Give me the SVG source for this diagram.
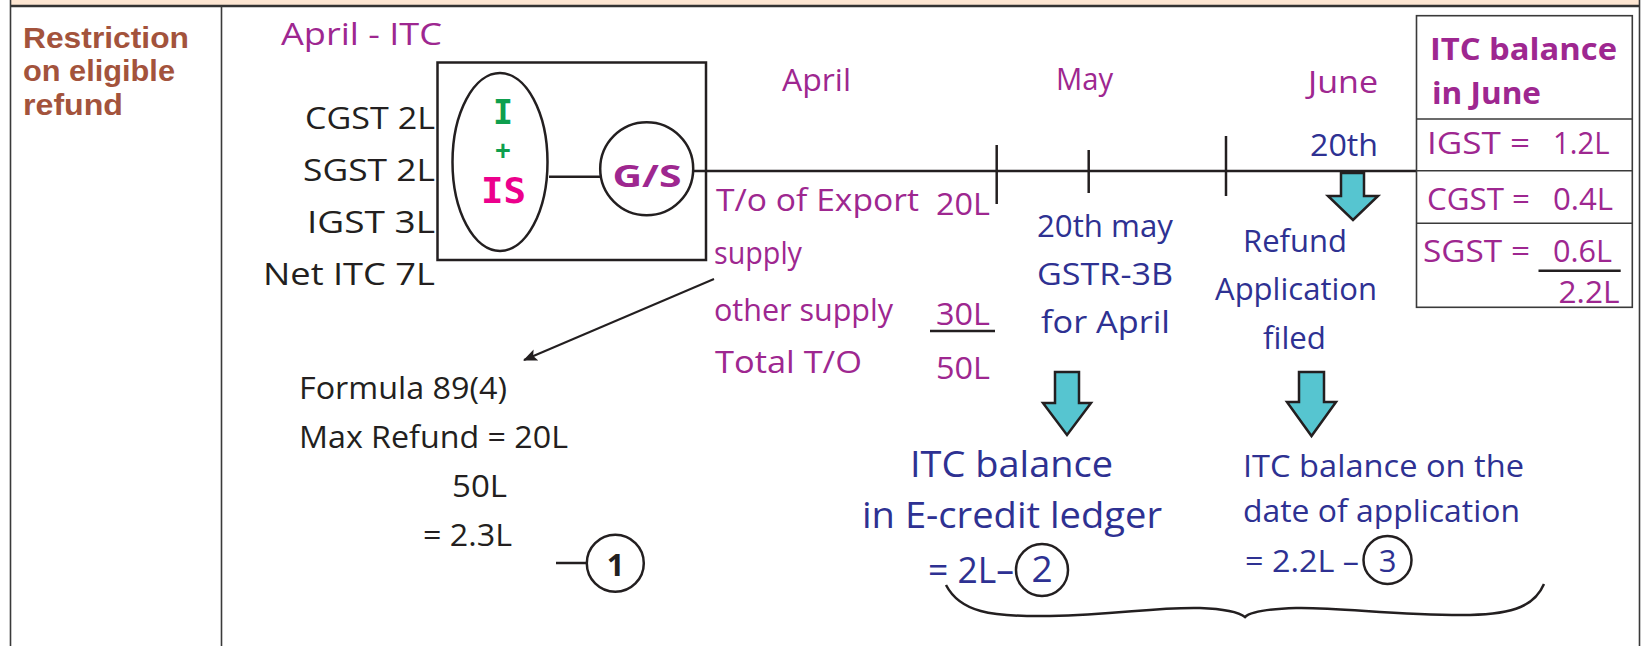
<svg xmlns="http://www.w3.org/2000/svg" width="1651" height="646" viewBox="0 0 1651 646">
<defs>
<style>
.t{font-family:"Open Sans","DejaVu Sans",sans-serif;font-size:31px}
.ls{font-family:"Liberation Sans",Arial,sans-serif}
.mono{font-family:"DejaVu Sans Mono","Liberation Mono",monospace}
.big{font-size:37px}
.b{font-weight:bold}
.pur{fill:#9E2790}
.blu{fill:#2E3192}
.blk{fill:#231F20}
.brn{fill:#A3533C}
.grn{fill:#0E9F4E}
.mag{fill:#EC008C}
.ln{stroke:#231F20;stroke-width:2.5;fill:none}
.frame{stroke:#3A3A3A;stroke-width:1.6;fill:none}
.cy{fill:#56C5D0;stroke:#231F20;stroke-width:2.5;stroke-linejoin:miter}
</style>
<marker id="ah" markerWidth="14" markerHeight="12" refX="13" refY="6" orient="auto" markerUnits="userSpaceOnUse">
<path d="M0,0 L14,6 L0,12 L3,6 Z" fill="#231F20"/>
</marker>
</defs>
<rect x="0" y="0" width="1651" height="646" fill="#FFFFFF"/>
<g id="page-frame">
<rect x="10" y="0" width="1630" height="5.5" fill="#FDE6D2"/>
<line x1="10" y1="6" x2="1640" y2="6" stroke="#333" stroke-width="2.5"/>
<line x1="10.5" y1="0" x2="10.5" y2="646" class="frame"/>
<line x1="221.5" y1="6" x2="221.5" y2="646" class="frame"/>
<line x1="1639.5" y1="0" x2="1639.5" y2="646" class="frame"/>
</g>
<g id="row-title">
<text class="ls b brn" font-size="29" x="23" y="48" textLength="166" lengthAdjust="spacingAndGlyphs">Restriction</text>
<text class="ls b brn" font-size="29" x="23" y="81" textLength="152" lengthAdjust="spacingAndGlyphs">on eligible</text>
<text class="ls b brn" font-size="29" x="23" y="115" textLength="100" lengthAdjust="spacingAndGlyphs">refund</text>
</g>
<g id="april-itc">
<text class="t pur" x="281" y="45" textLength="161" lengthAdjust="spacingAndGlyphs">April - ITC</text>
<text class="t blk" x="305" y="129" textLength="130" lengthAdjust="spacingAndGlyphs">CGST 2L</text>
<text class="t blk" x="303" y="181" textLength="132" lengthAdjust="spacingAndGlyphs">SGST 2L</text>
<text class="t blk" x="307" y="233" textLength="128" lengthAdjust="spacingAndGlyphs">IGST 3L</text>
<text class="t blk" x="263" y="285" textLength="172" lengthAdjust="spacingAndGlyphs">Net ITC 7L</text>
</g>
<g id="itc-box">
<rect x="437.5" y="62.5" width="268.5" height="197.5" class="ln"/>
</g>
<g id="node-i-is">
<ellipse cx="500" cy="162" rx="47.5" ry="89" class="ln"/>
<text class="mono b grn" x="503" y="124" text-anchor="middle" font-size="34" textLength="20" lengthAdjust="spacingAndGlyphs">I</text>
<text class="ls b grn" x="503" y="160" text-anchor="middle" font-size="27">+</text>
<text class="mono b mag" x="503.5" y="203" text-anchor="middle" font-size="36" textLength="45" lengthAdjust="spacingAndGlyphs">IS</text>
</g>
<g id="node-gs">
<circle cx="646.7" cy="168.7" r="46.5" class="ln"/>
<text class="t b pur" x="647" y="187" text-anchor="middle" font-size="35" textLength="69" lengthAdjust="spacingAndGlyphs">G/S</text>
</g>
<g id="connectors">
<line x1="549" y1="176.7" x2="600" y2="176.7" class="ln"/>
<line x1="693" y1="171" x2="1416" y2="171" class="ln"/>
<line x1="714" y1="279" x2="524" y2="360" stroke="#231F20" stroke-width="2" marker-end="url(#ah)"/>
</g>
<g id="timeline-ticks">
<line x1="996.7" y1="145" x2="996.7" y2="204" class="ln"/>
<line x1="1088.7" y1="150" x2="1088.7" y2="193" class="ln"/>
<line x1="1226" y1="136" x2="1226" y2="196" class="ln"/>
</g>
<g id="months">
<text class="t pur" x="782" y="91" textLength="69" lengthAdjust="spacingAndGlyphs">April</text>
<text class="t pur" x="1056" y="90" textLength="57" lengthAdjust="spacingAndGlyphs">May</text>
<text class="t pur" x="1308" y="93" textLength="70" lengthAdjust="spacingAndGlyphs">June</text>
</g>
<g id="april-turnover">
<text class="t pur" x="716" y="211" textLength="203" lengthAdjust="spacingAndGlyphs">T/o of Export</text>
<text class="t pur" x="936" y="215" textLength="54" lengthAdjust="spacingAndGlyphs">20L</text>
<text class="t pur" x="714" y="264" textLength="88" lengthAdjust="spacingAndGlyphs">supply</text>
<text class="t pur" x="714" y="321" textLength="179" lengthAdjust="spacingAndGlyphs">other supply</text>
<text class="t pur" x="936" y="325" textLength="54" lengthAdjust="spacingAndGlyphs">30L</text>
<line x1="930" y1="331" x2="995" y2="331" class="ln"/>
<text class="t pur" x="715" y="373" textLength="147" lengthAdjust="spacingAndGlyphs">Total T/O</text>
<text class="t pur" x="936" y="379" textLength="54" lengthAdjust="spacingAndGlyphs">50L</text>
</g>
<g id="formula">
<text class="t blk" x="299" y="399" textLength="208" lengthAdjust="spacingAndGlyphs">Formula 89(4)</text>
<text class="t blk" x="299" y="448" textLength="269" lengthAdjust="spacingAndGlyphs">Max Refund = 20L</text>
<text class="t blk" x="452" y="497" textLength="55" lengthAdjust="spacingAndGlyphs">50L</text>
<text class="t blk" x="423" y="546" textLength="89" lengthAdjust="spacingAndGlyphs">= 2.3L</text>
<line x1="556" y1="563" x2="587" y2="563" class="ln"/>
<circle cx="615.3" cy="563.3" r="28.5" class="ln"/>
<text class="t b blk" x="615.5" y="576" text-anchor="middle" font-size="34">1</text>
</g>
<g id="may-gstr3b">
<text class="t blu" x="1037" y="237" textLength="136" lengthAdjust="spacingAndGlyphs">20th may</text>
<text class="t blu" x="1037" y="285" textLength="136" lengthAdjust="spacingAndGlyphs">GSTR-3B</text>
<text class="t blu" x="1041" y="333" textLength="129" lengthAdjust="spacingAndGlyphs">for April</text>
<polygon class="cy" points="1055,372 1079,372 1079,403 1091,403 1067,435 1043,403 1055,403"/>
<text class="t big blu" x="910" y="477" textLength="203" lengthAdjust="spacingAndGlyphs">ITC balance</text>
<text class="t big blu" x="862" y="528" textLength="300" lengthAdjust="spacingAndGlyphs">in E-credit ledger</text>
<text class="t big blu" x="928" y="582.5" textLength="86" lengthAdjust="spacingAndGlyphs">= 2L–</text>
<circle cx="1042" cy="570" r="26" class="ln"/>
<text class="t big blu" x="1042" y="582" text-anchor="middle">2</text>
</g>
<g id="june-refund">
<text class="t blu" x="1310" y="156" textLength="68" lengthAdjust="spacingAndGlyphs">20th</text>
<polygon class="cy" points="1341,173 1364,173 1364,196 1378,196 1353,220 1328,196 1341,196"/>
<text class="t blu" x="1243" y="252" textLength="104" lengthAdjust="spacingAndGlyphs">Refund</text>
<text class="t blu" x="1215" y="300" textLength="162" lengthAdjust="spacingAndGlyphs">Application</text>
<text class="t blu" x="1263" y="349" textLength="63" lengthAdjust="spacingAndGlyphs">filed</text>
<polygon class="cy" points="1299,372 1324,372 1324,402 1336,402 1311.5,436 1287,402 1299,402"/>
<text class="t blu" x="1243" y="477" textLength="281" lengthAdjust="spacingAndGlyphs">ITC balance on the</text>
<text class="t blu" x="1243" y="522" textLength="277" lengthAdjust="spacingAndGlyphs">date of application</text>
<text class="t blu" x="1245" y="572" textLength="114" lengthAdjust="spacingAndGlyphs">= 2.2L –</text>
<circle cx="1387.5" cy="560" r="24" class="ln"/>
<text class="t blu" x="1387.5" y="572" text-anchor="middle">3</text>
</g>
<g id="brace">
<path class="ln" d="M946,585 C960,612 990,617 1050,616 C1120,615 1150,607 1200,608 C1225,609 1240,613 1245,617 C1250,612 1265,609 1296,608 C1340,607 1400,616 1470,615 C1515,614 1535,605 1544,584"/>
</g>
<g id="itc-june-table">
<rect x="1416.5" y="15.7" width="215.8" height="291.6" class="frame"/>
<line x1="1416.5" y1="119" x2="1632.3" y2="119" class="frame"/>
<line x1="1416.5" y1="170.7" x2="1632.3" y2="170.7" class="frame"/>
<line x1="1416.5" y1="223.3" x2="1632.3" y2="223.3" class="frame"/>
<text class="t b pur" x="1430" y="60" textLength="187" lengthAdjust="spacingAndGlyphs">ITC balance</text>
<text class="t b pur" x="1432" y="103.5" textLength="109" lengthAdjust="spacingAndGlyphs">in June</text>
<text class="t pur" x="1427" y="154" textLength="103" lengthAdjust="spacingAndGlyphs">IGST =</text>
<text class="t pur" x="1553" y="154" textLength="56.5" lengthAdjust="spacingAndGlyphs">1.2L</text>
<text class="t pur" x="1427" y="210" textLength="103" lengthAdjust="spacingAndGlyphs">CGST =</text>
<text class="t pur" x="1553" y="210" textLength="60" lengthAdjust="spacingAndGlyphs">0.4L</text>
<text class="t pur" x="1423" y="261.7" textLength="107" lengthAdjust="spacingAndGlyphs">SGST =</text>
<text class="t pur" x="1553" y="261.7" textLength="59" lengthAdjust="spacingAndGlyphs">0.6L</text>
<line x1="1538.5" y1="270.7" x2="1620.7" y2="270.7" class="ln"/>
<text class="t pur" x="1558.5" y="303.3" textLength="61" lengthAdjust="spacingAndGlyphs">2.2L</text>
</g>
</svg>
